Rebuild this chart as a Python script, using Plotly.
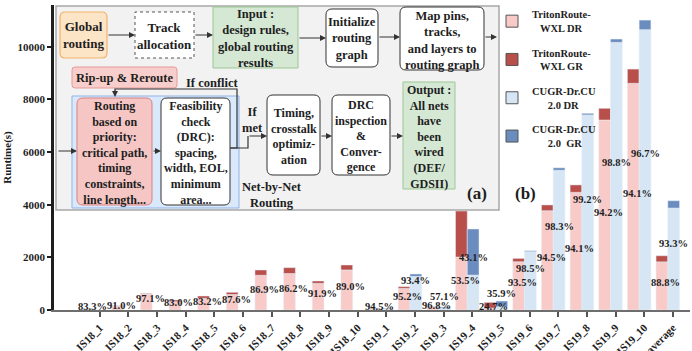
import plotly.graph_objects as go

# ---------------- data ----------------
cats = ["IS18_1", "IS18_2", "IS18_3", "IS18_4", "IS18_5", "IS18_6", "IS18_7",
        "IS18_8", "IS18_9", "IS18_10", "IS19_1", "IS19_2", "IS19_3", "IS19_4",
        "IS19_5", "IS19_6", "IS19_7", "IS19_8", "IS19_9", "IS19_10", "average"]
tr_dr = [33, 146, 616, 315, 443, 589, 1320, 1386, 1012, 1521,
         66, 820, 145, 2012, 72, 1833, 3771, 4470, 7216, 8610, 1829]
tr_gr = [7, 14, 18, 65, 89, 83, 199, 222, 89, 188,
         4, 66, 5, 1748, 218, 127, 219, 280, 444, 540, 231]
tr_lbl = ["83.3%", "91.0%", "97.1%", "83.0%", "83.2%", "87.6%", "86.9%", "86.2%",
          "91.9%", "89.0%", "94.5%", "95.2%", "96.8%", "53.5%", "24.7%", "93.5%",
          "94.5%", "94.1%", "94.2%", "94.1%", "88.8%"]
cu_dr = [None] * 10 + [40, 1277, 63, 1326, 122, 2216, 5308, 7410, 10167, 10647, 3872]
cu_gr = [None] * 10 + [25, 90, 47, 1750, 218, 34, 92, 60, 123, 363, 278]
cu_lbl = [None] * 10 + [None, "93.4%", "57.1%", "43.1%", "35.9%", "98.5%", "98.3%",
                        "99.2%", "98.8%", "96.7%", "93.3%"]
y_ticks = [0, 2000, 4000, 6000, 8000, 10000]

# ---------------- style ----------------
PINK, RED = "#f8cbc8", "#b94f4b"
LBLUE, DBLUE = "#d6e6f4", "#6a8cbf"
FONT = "Liberation Serif"
TXT = "#1e1e1e"

W_, H_ = 692, 351
L, R, T, B = 54, 2, 5, 41
PW, PH = W_ - L - R, H_ - T - B


def px(x):
    return (x - L) / PW


def py(y):
    return (H_ - B - y) / PH


fig = go.Figure()

fig.add_trace(go.Bar(x=cats, y=tr_dr, offset=-0.585, width=0.41, marker_color=PINK,
                     showlegend=False, hoverinfo="skip"))
fig.add_trace(go.Bar(x=cats, y=tr_gr, base=tr_dr, offset=-0.585, width=0.41, marker_color=RED,
                     showlegend=False, hoverinfo="skip"))
fig.add_trace(go.Bar(x=cats, y=cu_dr, offset=-0.175, width=0.41, marker_color=LBLUE,
                     showlegend=False, hoverinfo="skip"))
fig.add_trace(go.Bar(x=cats, y=cu_gr, base=cu_dr, offset=-0.175, width=0.41, marker_color=DBLUE,
                     showlegend=False, hoverinfo="skip"))

# legend entries
NB = "\u00a0"
legend_items = [
    ("TritonRoute-<br>" + NB * 3 + "WXL DR", PINK),
    ("TritonRoute-<br>" + NB * 3 + "WXL GR", RED),
    ("CUGR-Dr.CU<br>" + NB * 6 + "2.0 DR", LBLUE),
    ("CUGR-Dr.CU<br>" + NB * 6 + "2.0" + NB * 2 + "GR", DBLUE),
]
for i, (name, col) in enumerate(legend_items):
    fig.add_trace(go.Bar(x=[None], y=[None], name=name, legendgroup=str(i),
                         marker=dict(color=col, line=dict(color="#555", width=1))))

annotations = []
# bar percentage labels
for i, c in enumerate(cats):
    if tr_lbl[i] is not None:
        annotations.append(dict(x=c, y=tr_dr[i] / 2, xref="x", yref="y", text=tr_lbl[i],
                                showarrow=False, xshift=-7, yshift=3,
                                font=dict(family=FONT, size=10.5, color=TXT, weight="bold")))
    if cu_lbl[i] is not None:
        annotations.append(dict(x=c, y=(cu_dr[i] + cu_gr[i]) / 2, xref="x", yref="y",
                                text=cu_lbl[i], showarrow=False, xshift=1, yshift=12,
                                font=dict(family=FONT, size=10.5, color=TXT, weight="bold")))

shapes = []


def rect(x0, y0, x1, y1, fill, line, width=1.0, dash="solid", r=0):
    if r == 0:
        shapes.append(dict(type="rect", xref="paper", yref="paper",
                           x0=px(x0), x1=px(x1), y0=py(y1), y1=py(y0),
                           fillcolor=fill, line=dict(color=line, width=width, dash=dash),
                           layer="above"))
        return

    def P(a, b):
        return f"{px(a):.5f},{py(b):.5f}"
    path = (f"M{P(x0 + r, y0)} L{P(x1 - r, y0)} Q{P(x1, y0)} {P(x1, y0 + r)} "
            f"L{P(x1, y1 - r)} Q{P(x1, y1)} {P(x1 - r, y1)} L{P(x0 + r, y1)} "
            f"Q{P(x0, y1)} {P(x0, y1 - r)} L{P(x0, y0 + r)} Q{P(x0, y0)} {P(x0 + r, y0)} Z")
    shapes.append(dict(type="path", xref="paper", yref="paper", path=path,
                       fillcolor=fill, line=dict(color=line, width=width, dash=dash),
                       layer="above"))


def poly(pts, color="#333", width=1.2):
    path = "M" + " L".join(f"{px(a):.5f},{py(b):.5f}" for a, b in pts)
    shapes.append(dict(type="path", xref="paper", yref="paper", path=path,
                       fillcolor="rgba(0,0,0,0)", line=dict(color=color, width=width),
                       layer="above"))


def arrow(x0, y0, x1, y1):
    annotations.append(dict(x=px(x1), y=py(y1), xref="paper", yref="paper",
                            ax=x0 - x1, ay=y0 - y1, axref="pixel", ayref="pixel",
                            text="", showarrow=True, arrowhead=2, arrowsize=1,
                            arrowwidth=1.2, arrowcolor="#333", standoff=0, startstandoff=0))


def label(cx, cy, text, size=12.5):
    annotations.append(dict(x=px(cx), y=py(cy), xref="paper", yref="paper", text=text,
                            showarrow=False, xanchor="center", yanchor="middle", align="center",
                            font=dict(family=FONT, size=size, color=TXT, weight="bold")))


# panel (a)
rect(56, 6, 499, 210, "#f2f2f2", "#a8a8a8", 1.5)
# top row
rect(60, 12, 107, 58, "#fce4c6", "#f2b36a", 1.2, r=5)
rect(135, 12, 194, 58, "#ffffff", "#555555", 1.0, dash="dot")
rect(213, 7, 298, 68, "#d5e8d4", "#9cc795", 1.0)
rect(326, 9, 378, 67, "#ffffff", "#333333", 1.0, r=6)
rect(400, 7, 484, 70, "#ffffff", "#333333", 1.0, r=6)
# second row
rect(72, 67, 177, 88, "#f8cecc", "#e59a98", 1.0, r=3)
rect(72, 96, 239, 208, "#dae8fc", "#8fb3e6", 1.0)
rect(77, 98, 152, 205, "#f5c6c4", "#d9807c", 1.0, r=6)
rect(161, 98, 230, 205, "#ffffff", "#333333", 1.0, r=6)
rect(267, 95, 320, 175, "#ffffff", "#333333", 1.0, r=6)
rect(332, 95, 390, 175, "#ffffff", "#333333", 1.0, r=6)
rect(403, 82, 455, 189, "#d5e8d4", "#9cc795", 1.0)

# connectors
arrow(107, 35, 135, 35)
arrow(194, 35, 213, 35)
arrow(298, 38, 326, 38)
arrow(378, 37, 400, 37)
arrow(484, 37, 497, 37)
arrow(57, 151, 77, 151)
arrow(152, 151, 161, 151)
poly([(230, 148), (237, 148), (237, 89), (115, 89), (115, 92)])
arrow(115, 89, 115, 97)
poly([(230, 148), (248, 148), (248, 136)])
arrow(248, 136, 267, 136)
arrow(320, 136, 332, 136)
arrow(390, 136, 403, 136)

# flowchart texts
label(83.5, 35, "Global<br>routing", 13)
label(164.5, 36, "Track<br>allocation", 13)
label(255.5, 39, "Input :<br>design rules,<br>global routing<br>results", 12.5)
label(352, 38.5, "Initialize<br>routing<br>graph", 12.5)
label(442, 40, "Map pins,<br>tracks,<br>and layers to<br>routing graph", 12.5)
label(124.5, 78, "Rip-up &amp; Reroute", 12.5)
label(212, 83, "If conflict", 12.5)
label(114.5, 153, "Routing<br>based on<br>priority:<br>critical path,<br>timing<br>constraints,<br>line length...", 12)
label(195.5, 153, "Feasibility<br>check<br>(DRC):<br>spacing,<br>width, EOL,<br>minimum<br>area...", 12)
label(252, 120, "If<br>met", 12.5)
label(293.5, 136.5, "Timing,<br>crosstalk<br>optimiz-<br>ation", 12)
label(361, 136, "DRC<br>inspection<br>&amp;<br>Conver-<br>gence", 12)
label(429, 137, "Output :<br>All nets<br>have<br>been<br>wired<br>(DEF/<br>GDSII)", 12)
label(272, 195, "Net-by-Net<br>Routing", 12.5)
label(477, 193, "(a)", 17)
label(525, 193, "(b)", 17)

fig.update_layout(
    width=W_, height=H_,
    margin=dict(l=L, r=R, t=T, b=B, autoexpand=False),
    paper_bgcolor="white", plot_bgcolor="white",
    barmode="overlay",
    showlegend=True,
    legend=dict(x=px(492), y=py(1), xanchor="left", yanchor="top",
                traceorder="grouped", tracegroupgap=8, bgcolor="rgba(0,0,0,0)",
                font=dict(family=FONT, size=10.5, color=TXT, weight="bold"),
                itemclick=False),
    shapes=shapes,
    annotations=annotations,
    xaxis=dict(type="category", categoryorder="array", categoryarray=cats,
               range=[-1.6, 20.6], showgrid=False, zeroline=False,
               showline=True, linecolor="#6e6e6e", linewidth=2,
               ticks="outside", ticklen=5, tickwidth=1.5, tickcolor="#555",
               tickangle=-45, automargin=False,
               tickfont=dict(family=FONT, size=11, color=TXT, weight="bold")),
    yaxis=dict(range=[0, 11584], tickvals=y_ticks, tickformat="d",
               showgrid=False, zeroline=False,
               showline=True, linecolor="#1e1e1e", linewidth=2.5,
               ticks="outside", ticklen=4, tickwidth=2, tickcolor="#1e1e1e",
               automargin=False,
               tickfont=dict(family=FONT, size=11, color=TXT, weight="bold"),
               title=dict(text="Runtime(s)", standoff=4,
                          font=dict(family=FONT, size=11, color=TXT, weight="bold"))),
)

fig.write_html("out.html", config={"displayModeBar": False},
               post_script="document.body.style.margin='0px';document.body.style.overflow='hidden';")
